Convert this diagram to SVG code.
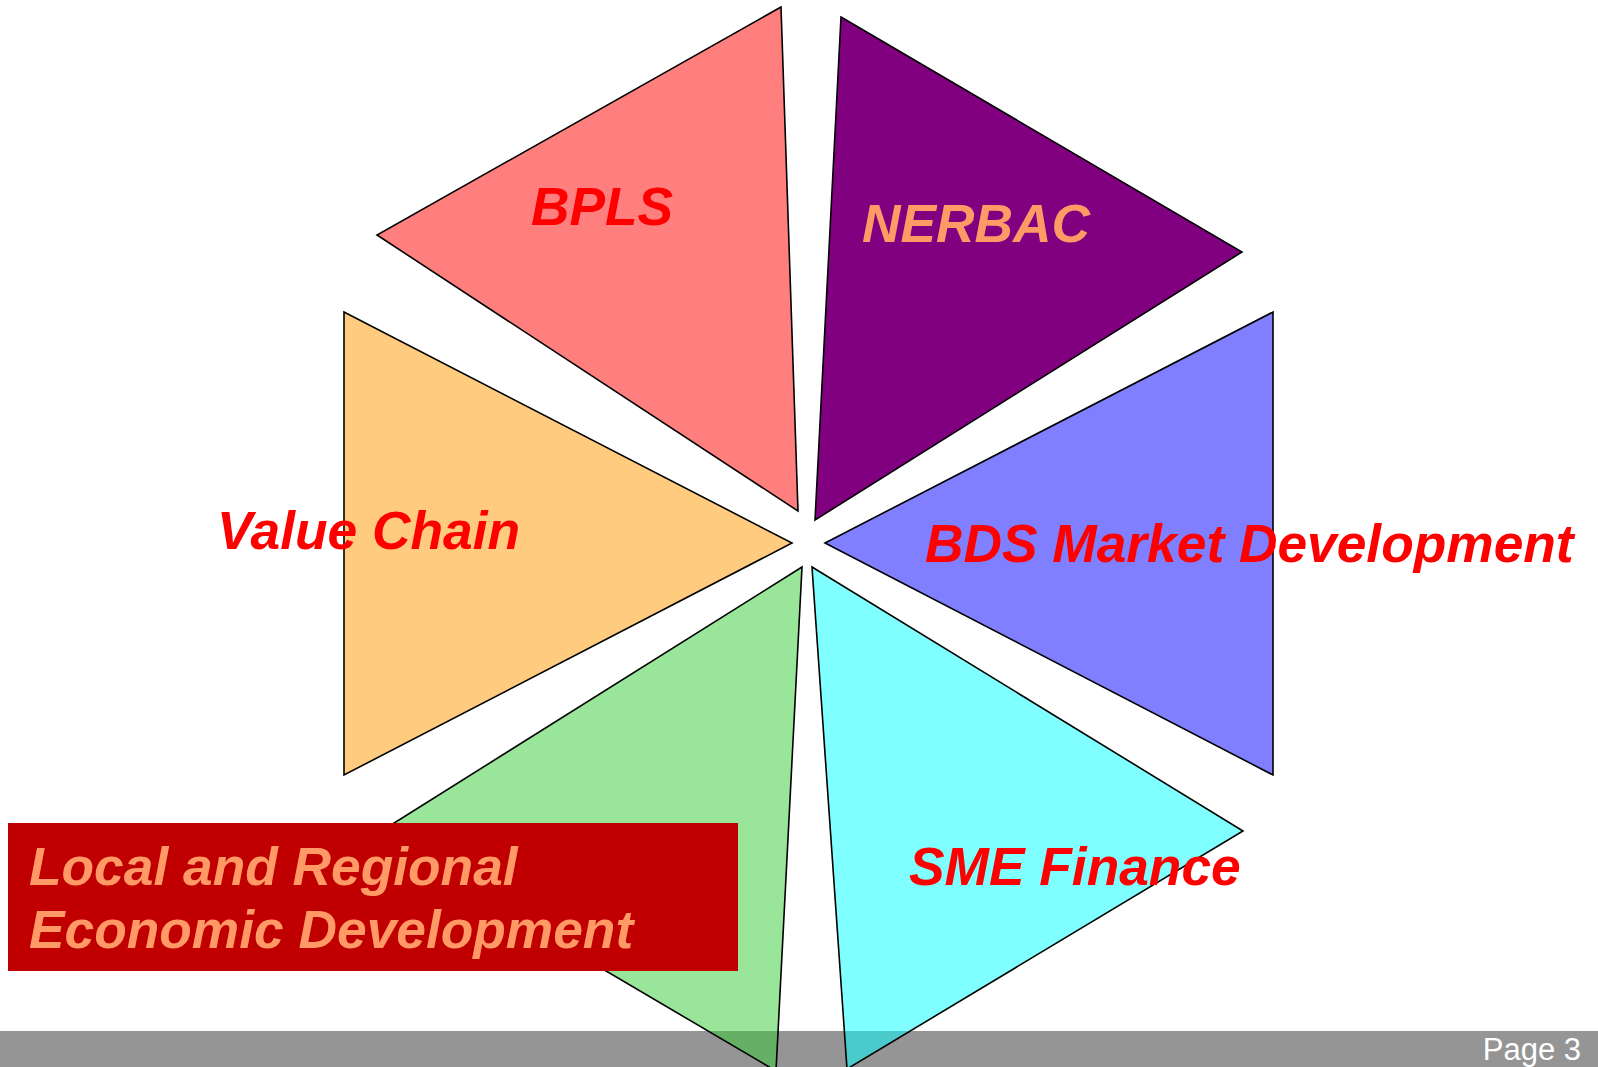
<svg xmlns="http://www.w3.org/2000/svg" width="1598" height="1067" viewBox="0 0 1598 1067">
<style>
.tri{stroke:#000;stroke-width:1.6;stroke-linejoin:miter}
.lbl{font-family:"Liberation Sans",Arial,sans-serif;font-weight:bold;font-style:italic;font-size:53.3px}
.red{fill:#FF0000}
.sal{fill:#FF9966}
</style>
<rect width="1598" height="1067" fill="#FFFFFF"/>
<g id="footer">
<rect x="0" y="1031" width="1598" height="36" fill="#959595"/>
<text x="1581" y="1060" text-anchor="end" font-family="Liberation Sans, Arial, sans-serif" font-size="31" fill="#FFFFFF">Page 3</text>
</g>
<g id="connectors"></g>
<g id="bpls">
<polygon class="tri" points="781,7 377,235 798,511" fill="#FF0000" fill-opacity="0.5"/>
<text class="lbl red" x="531" y="225">BPLS</text>
</g>
<g id="nerbac">
<polygon class="tri" points="841,17 1242,252 815,520" fill="#800080"/>
<text class="lbl sal" x="862" y="242">NERBAC</text>
</g>
<g id="value-chain">
<polygon class="tri" points="344,312 792,543 344,775" fill="#FF9900" fill-opacity="0.5"/>
</g>
<g id="bds">
<polygon class="tri" points="825,543 1273,312 1273,775" fill="#0000FF" fill-opacity="0.5"/>
</g>
<g id="lred">
<polygon class="tri" points="802,567 375,835 776,1071" fill="#33CC33" fill-opacity="0.5"/>
</g>
<g id="sme">
<polygon class="tri" points="812,567 1243,831 847,1069" fill="#00FFFF" fill-opacity="0.5"/>
</g>
<g id="labels">
<text class="lbl red" x="217" y="549">Value Chain</text>
<text class="lbl red" x="925" y="562">BDS Market Development</text>
<text class="lbl red" x="909" y="885">SME Finance</text>
</g>
<g id="lred-box">
<rect x="8" y="823" width="730" height="148" fill="#C00000"/>
<text class="lbl sal" x="29" y="885">Local and Regional</text>
<text class="lbl sal" x="29" y="948">Economic Development</text>
</g>
</svg>
